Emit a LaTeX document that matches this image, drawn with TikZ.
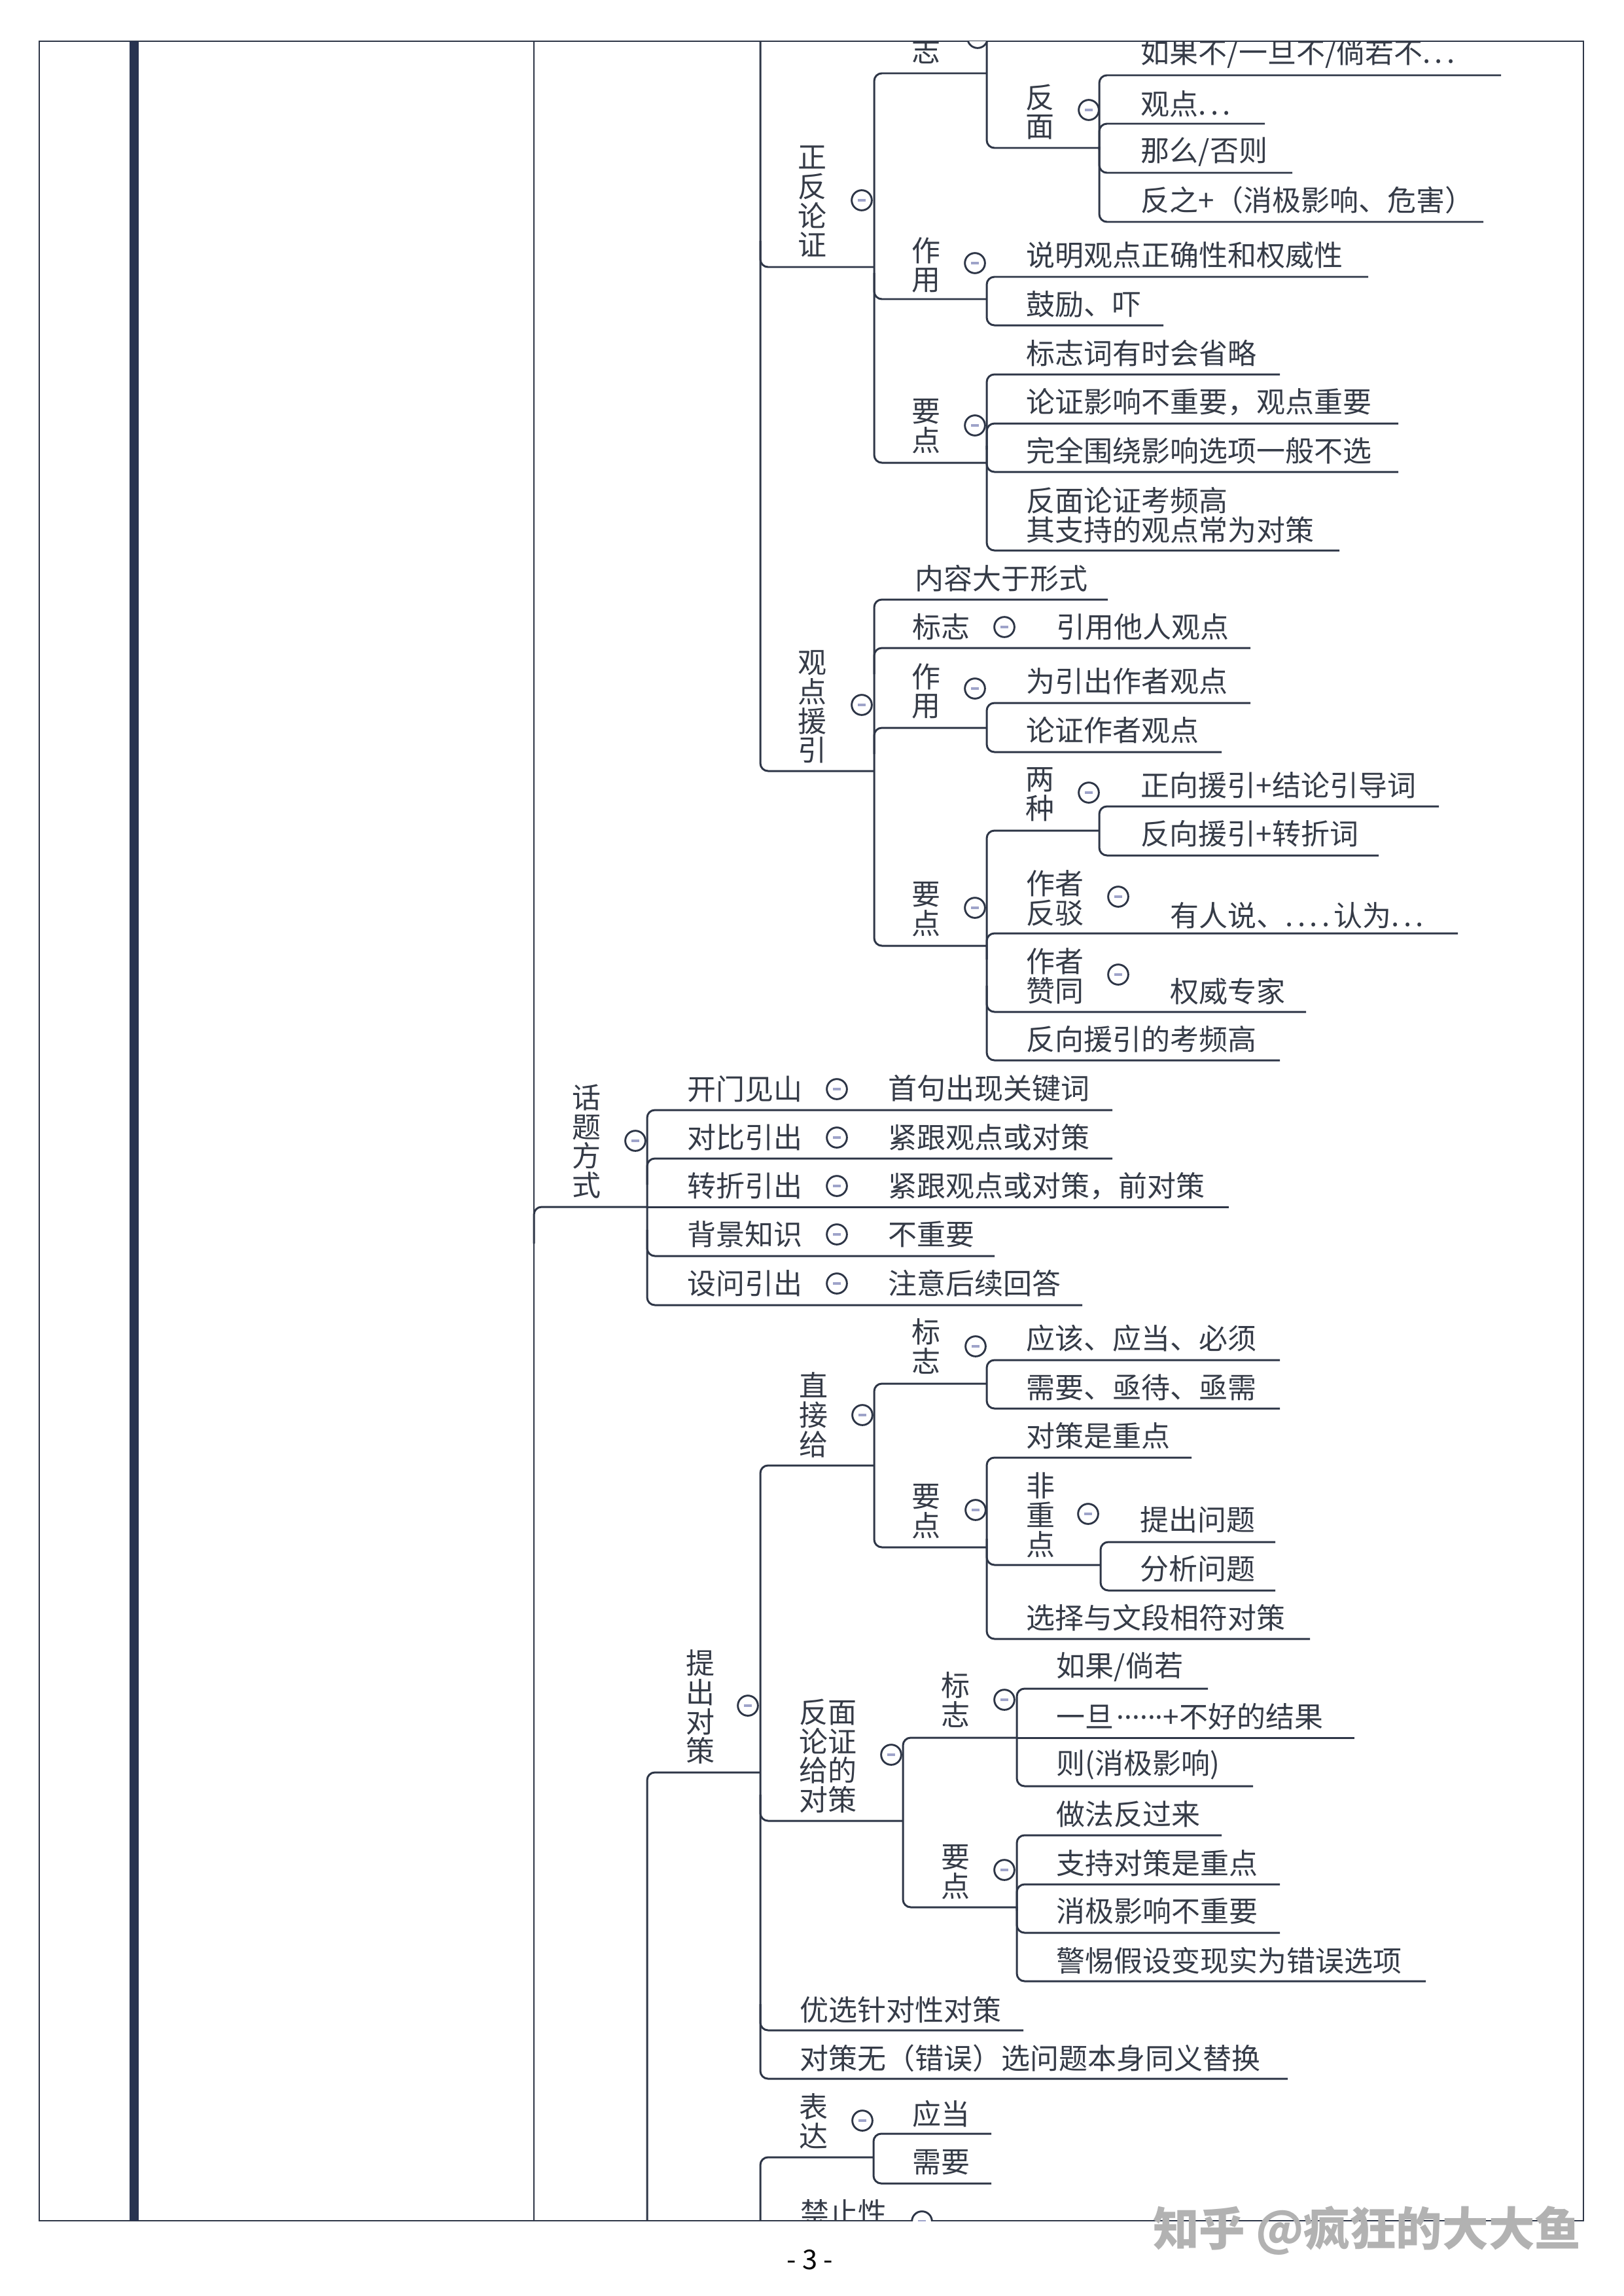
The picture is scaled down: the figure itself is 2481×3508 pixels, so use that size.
\documentclass[tikz,border=0pt]{standalone}
\usepackage{fontspec}
\setmainfont{Noto Sans CJK SC}
\newfontfamily\latinf{Noto Sans}
\definecolor{lc}{HTML}{2E3647}
\definecolor{tc}{HTML}{353B47}
\definecolor{dc}{HTML}{9EA3C9}
\definecolor{barc}{HTML}{283350}
\newcommand\fs{\fontsize{10.6pt}{10.8pt}\selectfont}
\newcommand\brGrp[5]{\draw[conn] (#3,#2) -- (#1,#2) -- (#1,#4) -- (#5,#4);}
\newcommand\brUp[3]{\draw[conn] (#1,#2+40) -- (#1,#2) -- (#3,#2);}
\newcommand\brDn[3]{\draw[conn] (#1,#2-40) -- (#1,#2) -- (#3,#2);}
\newcommand\brSt[3]{\draw[conn] (#1,#2) -- (#3,#2);}
\newcommand\dt{.\kern1.5pt}
\tikzset{
  conn/.style={draw=lc, line width=0.72pt, rounded corners=0.1cm},
  framel/.style={draw=lc, line width=0.5pt},
  txt/.style={anchor=west, inner sep=0pt, text=tc, font=\fs, align=left},
  vtxt/.style={anchor=center, inner sep=0pt, text=tc, font=\fs, align=center},
  tog/.style={circle, draw=lc, line width=0.7pt, fill=white, inner sep=0pt, minimum size=0.26cm,
    path picture={\draw[dc, line width=0.75pt] ([xshift=-0.05cm]path picture bounding box.center) -- ([xshift=0.05cm]path picture bounding box.center);}}
}
\begin{document}
\begin{tikzpicture}[x=0.008464cm, y=-0.008464cm]
\useasboundingbox (0,0) rectangle (2481,3508);
% frame and columns
\draw[framel] (60,63) rectangle (2420,3393);
\fill[barc] (198,63) rectangle (212,3393);
\draw[draw=lc, line width=0.55pt] (816,63) -- (816,3393);

\begin{scope}
\clip (60,63) rectangle (2420,3393);
% ---------- upper part: trunk 1162 ----------
\draw[conn] (1162,20) -- (1162,1178) -- (1336,1178);
\brDn{1162}{408}{1336}
% 正反论证 children
\brGrp{1336}{112}{1508}{707}{1508}
\brDn{1336}{457}{1508}
% 标志 (top) children trunk
\draw[conn] (1508,20) -- (1508,226) -- (1680,226);
% 反面 children
\brGrp{1680}{115}{2294}{339}{2267}
\brUp{1680}{189}{1933}
\brDn{1680}{264}{1975}
% 作用 children
\brGrp{1508}{423}{2091}{497}{1778}
% 要点 children
\brGrp{1508}{572}{1956}{841}{2047}
\brUp{1508}{647}{2137}
\brDn{1508}{721}{2137}
% 观点援引 children
\brGrp{1336}{916}{1693}{1445}{1508}
\brUp{1336}{990}{1911}
\brUp{1336}{1112}{1508}
% 作用 children
\brGrp{1508}{1074}{1911}{1149}{1867}
% 要点 children
\brGrp{1508}{1269}{1680}{1620}{1956}
\brUp{1508}{1426}{2228}
\brDn{1508}{1546}{1996}
% 两种 children
\brGrp{1680}{1232}{2199}{1307}{2107}

% ---------- 话题方式 ----------
\draw[conn] (816,1900) -- (816,1844) -- (989,1844);
\brGrp{989}{1696}{1700}{1994}{1654}
\brUp{989}{1770}{1700}
\brSt{989}{1844}{1878}
\brDn{989}{1919}{1520}

% ---------- 提出对策 ----------
\draw[conn] (1162,2708) -- (989,2708) -- (989,3450);
\brGrp{1162}{2239}{1336}{3176}{1968}
\brDn{1162}{2782}{1380}
\brDn{1162}{3102}{1564}
% 直接给 children
\brGrp{1336}{2114}{1508}{2364}{1508}
\brGrp{1508}{2078}{1956}{2152}{1956}
\brGrp{1508}{2227}{1821}{2504}{2002}
\brDn{1508}{2391}{1682}
\brGrp{1682}{2356}{1949}{2430}{1949}
% 反面论证给的对策 children
\brGrp{1380}{2655}{1554}{2914}{1554}
\brGrp{1554}{2580}{1846}{2729}{1915}
\brSt{1554}{2655}{2070}
\brGrp{1554}{2804}{1867}{3027}{2179}
\brUp{1554}{2879}{1956}
\brDn{1554}{2953}{1956}

% ---------- 表达 ----------
\draw[conn] (1335,3296) -- (1162,3296) -- (1162,3450);
\brGrp{1335}{3260}{1515}{3336}{1515}

% ---------- texts: upper ----------
\node[vtxt] (bzA) at (1415,55) {标\\志};
\node[tog] (cbzA) at (1494,58) {};
\node[vtxt] (fm) at (1589,171) {反\\面};
\node[tog] (cfm) at (1664,168) {};
\node[txt] (t1) at (1743,82) {如果不/一旦不/倘若不\dt\dt.};
\node[txt] (t2) at (1743,159) {观点\dt\dt.};
\node[txt] (t3) at (1743,232) {那么/否则};
\node[txt] (t4) at (1743,306) {反之+（消极影响、危害）};
\node[vtxt] (zflz) at (1241,308) {正\\反\\论\\证};
\node[tog] (czflz) at (1317,306) {};
\node[vtxt] (zyA) at (1415,405) {作\\用};
\node[tog] (czyA) at (1490,402) {};
\node[txt] (t5) at (1568,390) {说明观点正确性和权威性};
\node[txt] (t6) at (1568,465) {鼓励、吓};
\node[vtxt] (ydA) at (1415,651) {要\\点};
\node[tog] (cydA) at (1490,650) {};
\node[txt] (t7) at (1568,540) {标志词有时会省略};
\node[txt] (t8) at (1568,614) {论证影响不重要，观点重要};
\node[txt] (t9) at (1568,689) {完全围绕影响选项一般不选};
\node[txt] (t10) at (1568,787) {反面论证考频高\\其支持的观点常为对策};

\node[vtxt] (gdyy) at (1241,1080) {观\\点\\援\\引};
\node[tog] (cgdyy) at (1317,1077) {};
\node[txt] (t11) at (1398,884) {内容大于形式};
\node[txt] (bzB) at (1394,958) {标志};
\node[tog] (cbzB) at (1535,958) {};
\node[txt] (t12) at (1614,958) {引用他人观点};
\node[vtxt] (zyB) at (1415,1056) {作\\用};
\node[tog] (czyB) at (1490,1052) {};
\node[txt] (t13) at (1568,1041) {为引出作者观点};
\node[txt] (t14) at (1568,1116) {论证作者观点};
\node[vtxt] (ydB) at (1415,1389) {要\\点};
\node[tog] (cydB) at (1490,1387) {};
\node[vtxt] (lz) at (1589,1214) {两\\种};
\node[tog] (clz) at (1664,1211) {};
\node[txt] (t15) at (1743,1200) {正向援引+结论引导词};
\node[txt] (t16) at (1743,1274) {反向援引+转折词};
\node[txt] (zzfb) at (1568,1372) {作者\\反驳};
\node[tog] (czzfb) at (1709,1370) {};
\node[txt] (t17) at (1788,1399) {有人说、\dt\dt\dt\dt{}认为\dt\dt.};
\node[txt] (zzzt) at (1568,1491) {作者\\赞同};
\node[tog] (czzzt) at (1709,1489) {};
\node[txt] (t18) at (1788,1515) {权威专家};
\node[txt] (t19) at (1568,1588) {反向援引的考频高};

% ---------- texts: 话题方式 ----------
\node[vtxt] (htfs) at (896,1744) {话\\题\\方\\式};
\node[tog] (chtfs) at (971,1743) {};
\node[txt] (h1) at (1050,1664) {开门见山};
\node[tog] (ch1) at (1279,1664) {};
\node[txt] (h1c) at (1357,1663) {首句出现关键词};
\node[txt] (h2) at (1050,1738) {对比引出};
\node[tog] (ch2) at (1279,1738) {};
\node[txt] (h2c) at (1357,1738) {紧跟观点或对策};
\node[txt] (h3) at (1050,1812) {转折引出};
\node[tog] (ch3) at (1279,1812) {};
\node[txt] (h3c) at (1357,1812) {紧跟观点或对策，前对策};
\node[txt] (h4) at (1050,1886) {背景知识};
\node[tog] (ch4) at (1279,1886) {};
\node[txt] (h4c) at (1357,1886) {不重要};
\node[txt] (h5) at (1050,1961) {设问引出};
\node[tog] (ch5) at (1279,1961) {};
\node[txt] (h5c) at (1357,1961) {注意后续回答};

% ---------- texts: 提出对策 ----------
\node[vtxt] (tcdc) at (1070,2608) {提\\出\\对\\策};
\node[tog] (ctcdc) at (1143,2606) {};
\node[vtxt] (zjg) at (1243,2162) {直\\接\\给};
\node[tog] (czjg) at (1318,2162) {};
\node[vtxt] (bzC) at (1415,2057) {标\\志};
\node[tog] (cbzC) at (1491,2057) {};
\node[txt] (p1) at (1568,2045) {应该、应当、必须};
\node[txt] (p2) at (1568,2120) {需要、亟待、亟需};
\node[vtxt] (ydC) at (1415,2309) {要\\点};
\node[tog] (cydC) at (1491,2307) {};
\node[txt] (p3) at (1568,2194) {对策是重点};
\node[vtxt] (fzd) at (1590,2315) {非\\重\\点};
\node[tog] (cfzd) at (1663,2313) {};
\node[txt] (p4) at (1742,2322) {提出问题};
\node[txt] (p5) at (1742,2397) {分析问题};
\node[txt] (p6) at (1568,2472) {选择与文段相符对策};

\node[vtxt] (fmlz) at (1265,2683) {反面\\论证\\给的\\对策};
\node[tog] (cfmlz) at (1362,2681) {};
\node[vtxt] (bzD) at (1460,2597) {标\\志};
\node[tog] (cbzD) at (1535,2597) {};
\node[txt] (q1) at (1614,2547) {如果/倘若};
\node[txt] (q2) at (1614,2623) {一旦{\latinf\kern1pt ······}+不好的结果};
\node[txt] (q3) at (1614,2696) {则(消极影响)};
\node[vtxt] (ydD) at (1460,2860) {要\\点};
\node[tog] (cydD) at (1535,2857) {};
\node[txt] (q4) at (1614,2772) {做法反过来};
\node[txt] (q5) at (1614,2847) {支持对策是重点};
\node[txt] (q6) at (1614,2920) {消极影响不重要};
\node[txt] (q7) at (1614,2996) {警惕假设变现实为错误选项};
\node[txt] (q8) at (1222,3071) {优选针对性对策};
\node[txt] (q9) at (1222,3145) {对策无（错误）选问题本身同义替换};

% ---------- texts: 表达 ----------
\node[vtxt] (bd) at (1243,3241) {表\\达};
\node[tog] (cbd) at (1318,3240) {};
\node[txt] (r1) at (1394,3230) {应当};
\node[txt] (r2) at (1394,3304) {需要};
\node[txt] (jzx) at (1223,3381) {禁止性};
\node[tog] (cjzx) at (1409,3394) {};
\end{scope}

% page number and watermark
\node[inner sep=0pt, text=black, font=\fontsize{10pt}{10pt}\selectfont] (pg) at (1238,3453) {- 3 -};
\node[anchor=east, inner sep=0pt, text=black!30, font=\bfseries\fontsize{17pt}{17pt}\selectfont] (wm) at (2417,3408) {知乎 @疯狂的大大鱼};
\end{tikzpicture}
\end{document}
